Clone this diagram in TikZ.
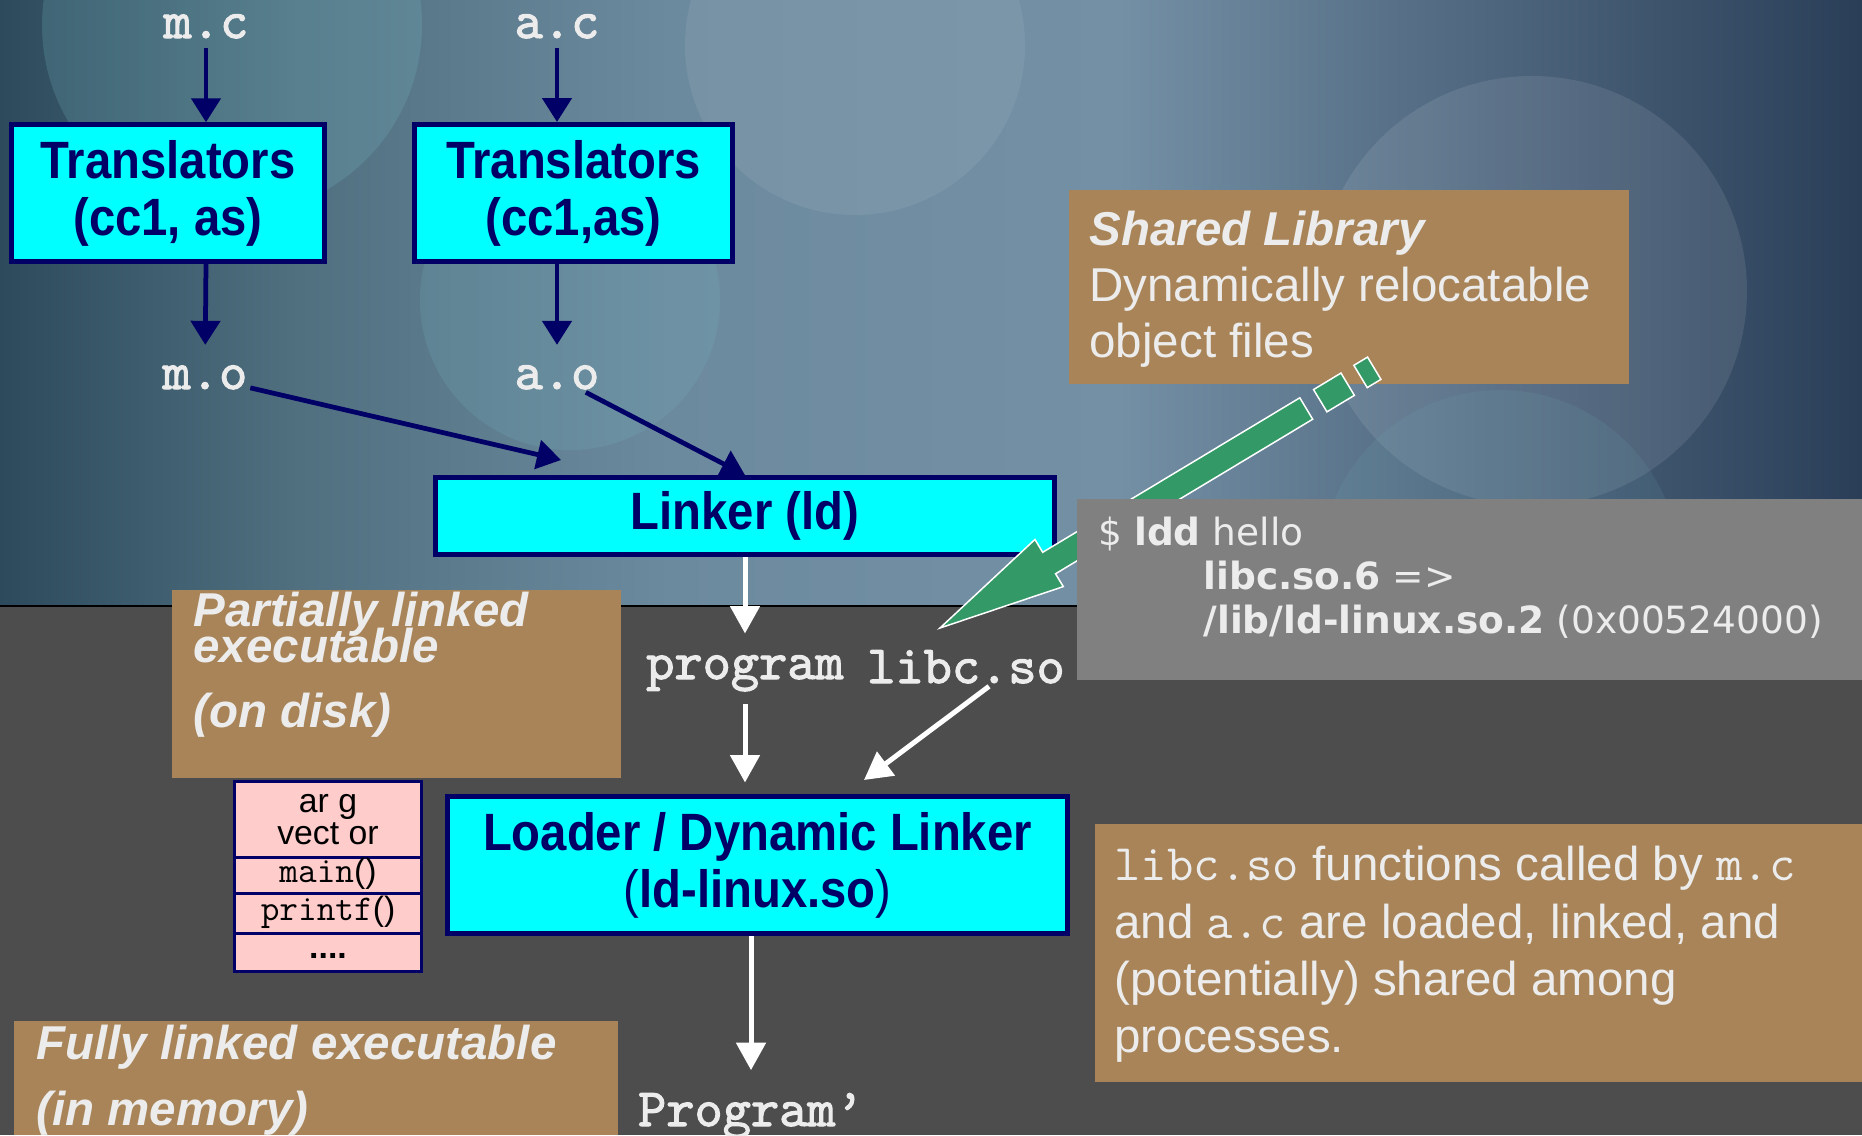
\documentclass[tikz,border=0pt]{standalone}
\usepackage{fontspec}
\setmainfont{Liberation Sans}
\newfontfamily\narrowsans{Liberation Sans}[FakeStretch=0.9]
\newfontfamily\shellfont{DejaVu Sans}
\newfontfamily\labelmono{lmmono10-regular.otf}[FakeBold=2]
\usetikzlibrary{arrows.meta,positioning}

\definecolor{navyblue}{RGB}{0,0,102}
\definecolor{boxcyan}{RGB}{0,255,255}
\definecolor{notebrown}{RGB}{168,132,88}
\definecolor{notetext}{RGB}{236,236,236}
\definecolor{floorgrey}{RGB}{77,77,77}
\definecolor{shellgrey}{RGB}{128,128,128}
\definecolor{arrowgreen}{RGB}{51,153,102}
\definecolor{stackpink}{RGB}{255,204,204}
\definecolor{skyA}{RGB}{44,74,92}
\definecolor{skyB}{RGB}{80,112,128}
\definecolor{skyC}{RGB}{108,138,158}
\definecolor{skyD}{RGB}{116,144,165}
\definecolor{skyE}{RGB}{78,102,126}
\definecolor{skyF}{RGB}{42,62,88}
\definecolor{glow}{RGB}{120,185,195}
\pgfdeclarehorizontalshading{skyband}{100bp}{color(0bp)=(skyA); color(25bp)=(skyA);
  color(33bp)=(skyB); color(43bp)=(skyC); color(55bp)=(skyD); color(65bp)=(skyE);
  color(75bp)=(skyF); color(100bp)=(skyF)}

\tikzset{
  tool/.style={draw=navyblue, line width=2pt, fill=boxcyan, text=navyblue,
    font=\narrowsans\bfseries\fontsize{21}{22.8}\selectfont, align=center, inner sep=0pt},
  srcfile/.style={text=notetext, font=\labelmono\fontsize{21.5}{22}\selectfont,
    inner sep=1pt, anchor=base},
  note/.style={fill=notebrown, inner sep=0pt},
  notetxt/.style={text=notetext, align=left, inner sep=0pt, anchor=north west},
  cell/.style={draw=navyblue, line width=1.2pt, fill=stackpink, minimum width=74.8pt,
    inner sep=0pt, align=center, font=\fontsize{13.5}{12.8}\selectfont},
  build/.style={draw=navyblue, line width=1.9pt, -{Triangle[width=11.6pt,length=9.6pt]}},
  run/.style={draw=white, line width=2pt, -{Triangle[width=11.6pt,length=11pt]}},
  pointer/.style={fill=arrowgreen, draw=white, line width=0.6pt},
}

\begin{document}
\begin{tikzpicture}[x=0.4pt, y=-0.4pt]
\useasboundingbox (0,0) rectangle (1862,1135);

% background
\shade[shading=skyband] (0,0) rectangle (1862,606);
\begin{scope}
  \clip (0,0) rectangle (1862,606);
  \fill[glow, opacity=0.22] (232,25) circle (76pt);
  \fill[white, opacity=0.07] (855,45) circle (68pt);
  \fill[glow, opacity=0.18] (570,300) circle (60pt);
  \fill[white, opacity=0.09] (1532,291) circle (86pt);
  \fill[glow, opacity=0.10] (1500,570) circle (72pt);
\end{scope}
\fill[floorgrey] (0,606) rectangle (1862,1135);
\draw[black, line width=0.5pt] (0,606) -- (1862,606);

% notes
\node[note, minimum width=224pt, minimum height=77.6pt] (shared) at (1349,287) {};
\node[notetxt, font=\fontsize{19}{22.4}\selectfont] (sharedtxt) at (1089,211)
  {\textbf{\textit{Shared Library}}\\Dynamically relocatable\\object files};
\node[note, minimum width=179.6pt, minimum height=75.2pt] (disk) at (396.5,684) {};
\node[notetxt, font=\bfseries\itshape\fontsize{19}{22.8}\selectfont] (disktxt) at (193,592)
  {Partially linked\\[-8.4pt]executable\\[3.2pt](on disk)};
\node[note, minimum width=241.6pt, minimum height=45.6pt] (memory) at (316,1078) {};
\node[notetxt, font=\bfseries\itshape\fontsize{19}{26.4}\selectfont] (memorytxt) at (36,1025)
  {Fully linked executable\\(in memory)};
\node[note, minimum width=306.8pt, minimum height=103.2pt] (shares) at (1478.5,953) {};
\node[notetxt, font=\fontsize{19}{22.9}\selectfont] (sharestxt) at (1114,846)
  {{\ttfamily\fontsize{20.5}{22.9}\selectfont libc.so} functions called by {\ttfamily\fontsize{20.5}{22.9}\selectfont m.c}\\
   and {\ttfamily\fontsize{20.5}{22.9}\selectfont a.c} are loaded, linked, and\\
   (potentially) shared among\\processes.};

% build chain
\node[srcfile] (mc) at (206,38) {m.c};
\node[srcfile] (ac) at (557,38) {a.c};
\node[tool, minimum width=124.8pt, minimum height=54.6pt] (t1) at (168,193) {Translators\\(cc1, as)};
\node[tool, minimum width=127.2pt, minimum height=54.8pt] (t2) at (573.5,193) {Translators\\(cc1,as)};
\node[srcfile] (mo) at (205,389) {m.o};
\node[srcfile] (ao) at (557,389) {a.o};
\node[tool, minimum width=247.6pt, minimum height=30.8pt] (linker) at (745,516) {Linker (ld)};
\coordinate (mo-in) at (561,460);

\draw[build, shorten <=2.6pt] (mc) -- (mc |- t1.north);
\draw[build, shorten <=2.6pt] (ac) -- (ac |- t2.north);
\draw[build, shorten >=7pt] (mc |- t1.south) -- (mo);
\draw[build, shorten >=7pt] (ac |- t2.south) -- (ao);
\draw[build] (mo) -- (mo-in);
\draw[build] (ao) -- (linker.north);

% green pointer from the shared library note
\begin{scope}[shift={(940,628)}, rotate=31]
  \filldraw[pointer] (0,0) -- (127,-27) -- (127,-12) -- (427,-12) -- (427,13)
    -- (127,13) -- (127,28) -- cycle;
  \filldraw[pointer] (443,-12) rectangle (475,14);
  \filldraw[pointer] (490,-12) rectangle (506,14);
\end{scope}

% ldd output
\node[fill=shellgrey, minimum width=314pt, minimum height=72.4pt, inner sep=0pt] (shell) at (1469.5,589.5) {};
\node[notetxt, font=\shellfont\fontsize{15}{17.6}\selectfont] (shelltxt) at (1098,516)
  {\$ \textbf{ldd} hello\\
   \hspace*{42pt}\textbf{libc.so.6} =>\\
   \hspace*{42pt}\textbf{/lib/ld-linux.so.2} (0x00524000)};

% load chain
\node[srcfile] (prog) at (745,679) {program};
\node[srcfile] (libc) at (966,683) {libc.so};
\node[tool, minimum width=248pt, minimum height=54.8pt] (loader) at (757.5,865)
  {Loader / Dynamic Linker\\{\mdseries(}ld-linux.so{\mdseries)}};
\node[srcfile] (progp) at (751,1126) {Program’};
\coordinate (libtip) at (864,780);

\draw[run, shorten >=7.5pt] (linker.south) -- (prog.north);
\draw[run, shorten <=4pt, shorten >=4.6pt] (prog.south) -- (loader.north -| prog.south);
\draw[run] ([xshift=9.2pt]libc.south) -- (libtip);
\draw[run, shorten >=8pt] (loader.south -| progp.north) -- (progp.north);

% process stack
\node[cell, minimum height=30.4pt] (argv) at (328,819.5) {ar g\\vect or};
\node[cell, minimum height=14.4pt, below=-1.2pt of argv] (mainrow)
  {\strut{\ttfamily\fontsize{14.5}{12.8}\selectfont main}()};
\node[cell, minimum height=16pt, below=-1.2pt of mainrow] (printfrow)
  {\strut{\ttfamily\fontsize{14.5}{12.8}\selectfont printf}()};
\node[cell, minimum height=15.2pt, below=-1.2pt of printfrow] (dotsrow) {\strut\textbf{....}};
\end{tikzpicture}
\end{document}
